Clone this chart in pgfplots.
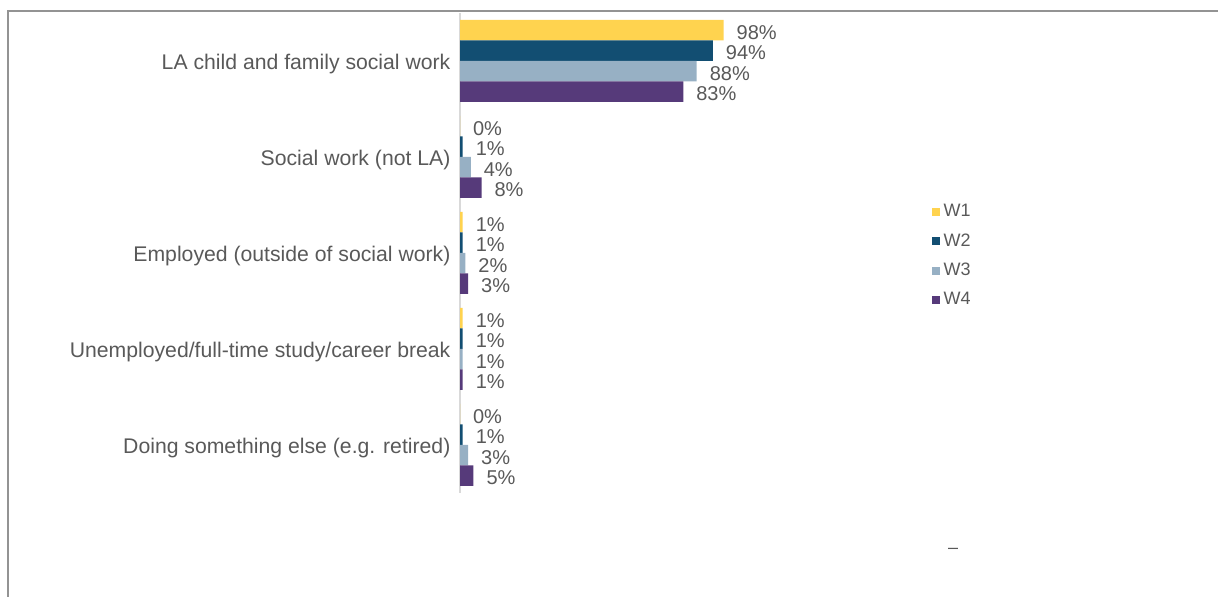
\documentclass[border=0pt]{standalone}
\usepackage{pgfplots}
\pgfplotsset{compat=1.18}
\usepackage{fontspec}
\setmainfont{Liberation Sans}
\definecolor{cW1}{HTML}{FFD34F}
\definecolor{cW2}{HTML}{124E72}
\definecolor{cW3}{HTML}{97B0C4}
\definecolor{cW4}{HTML}{563A7A}
\definecolor{txt}{HTML}{595959}
\begin{document}
\begin{tikzpicture}
\useasboundingbox (0,0) rectangle (609pt,298.5pt);
\draw[gray!85, line width=0.8pt] (4pt,0) -- (4pt,293pt) -- (609pt,293pt);
\begin{axis}[
  at={(230pt,52pt)}, anchor=south west,
  width=134.5pt, height=240pt, scale only axis,
  xbar, bar width=10.25pt,
  xmin=0, xmax=100,
  ymin=-0.5, ymax=4.5, y dir=reverse,
  axis x line=none,
  axis y line*=left,
  y axis line style={draw=black!15, line width=1pt},
  ytick={0,1,2,3,4},
  yticklabels={LA child and family social work, Social work (not LA), Employed (outside of social work), Unemployed/full-time study/career break, Doing something else (e.g. retired)},
  ytick style={draw=none},
  yticklabel style={font=\fontsize{10.6}{12}\selectfont, text=txt, xshift=3pt, yshift=-1.5pt},
  clip=false,
  /pgf/number format/assume math mode=true,
  point meta=x,
  nodes near coords={\pgfmathprintnumber{\pgfplotspointmeta}\%},
  nodes near coords style={font=\fontsize{10}{12}\selectfont, text=txt, anchor=west, xshift=3pt, yshift=-1pt},
  legend style={at={(1.752,0.61)}, anchor=north west, draw=none, fill=none,
    font=\fontsize{9}{10}\selectfont, text=txt, row sep=2.8pt, inner sep=0pt},
  legend cell align=left,
  legend image code/.code={\fill[#1] (0pt,-2pt) rectangle (4pt,2pt);},
]
\addplot[fill=cW1, draw=none, bar shift=15.375pt] coordinates {(98,0) (0,1) (1,2) (1,3) (0,4)};
\addplot[fill=cW2, draw=none, bar shift=5.125pt] coordinates {(94,0) (1,1) (1,2) (1,3) (1,4)};
\addplot[fill=cW3, draw=none, bar shift=-5.125pt] coordinates {(88,0) (4,1) (2,2) (1,3) (3,4)};
\addplot[fill=cW4, draw=none, bar shift=-15.375pt] coordinates {(83,0) (8,1) (3,2) (1,3) (5,4)};
\legend{W1,W2,W3,W4}
\end{axis}
\node[text=txt, font=\fontsize{9}{10}\selectfont] at (476.5pt,23pt) {–};
\end{tikzpicture}
\end{document}
